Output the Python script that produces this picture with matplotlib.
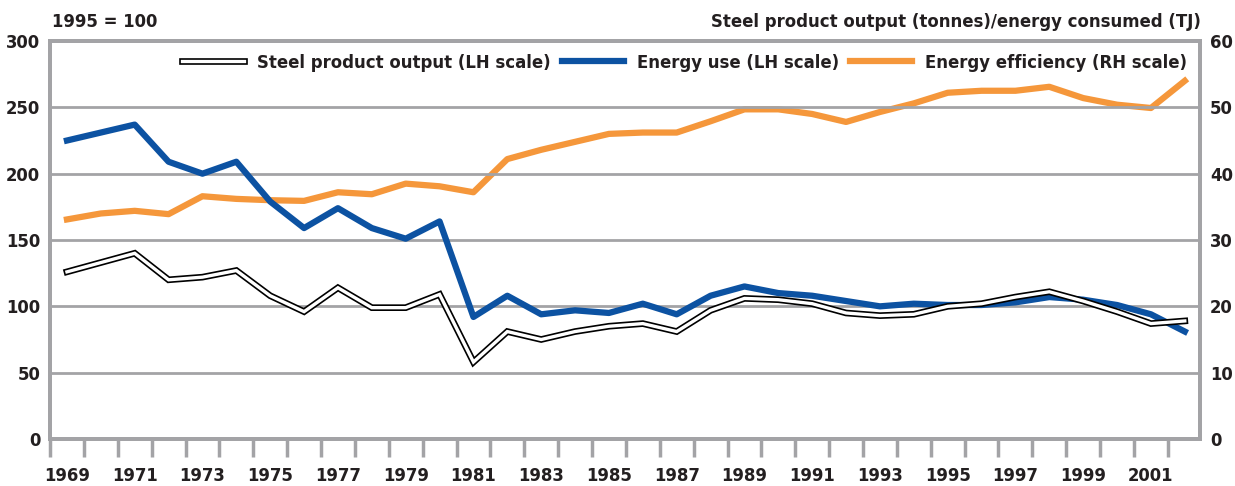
import matplotlib
matplotlib.use("Agg")
import matplotlib.pyplot as plt
import numpy as np

plt.rcParams['font.family'] = ['DejaVu Sans']
plt.rcParams['font.stretch'] = 'condensed'
plt.rcParams['font.weight'] = 'bold'

years = np.arange(1969, 2003)

# 1995 = 100
steel_output = [126, 133, 140, 120, 122, 127, 108, 96, 114, 99, 99, 109,
                58, 81, 75, 81, 85, 87, 81, 97, 106, 105, 102, 95,
                93, 94, 100, 102, 107, 111, 104, 96, 87, 89]
energy_use = [225, 231, 237, 209, 200, 209, 179, 159, 174, 159, 151, 164,
              92, 108, 94, 97, 95, 102, 94, 108, 115, 110, 108, 104,
              100, 102, 101, 101, 103, 107, 105, 101, 94, 81]
# tonnes / TJ
efficiency = [33.1, 34.0, 34.4, 33.9, 36.6, 36.2, 36.0, 35.9, 37.2, 36.9, 38.5, 38.1,
              37.2, 42.2, 43.6, 44.8, 46.0, 46.2, 46.2, 47.9, 49.7, 49.7, 49.0, 47.8,
              49.3, 50.6, 52.2, 52.5, 52.5, 53.1, 51.4, 50.4, 49.9, 54.0]

year_labels = [str(y) for y in range(1969, 2002, 2)]

blue = '#0c52a2'
orange = '#f5973b'
grey = '#a3a3a6'
txt = '#231f20'
fs = 13.2

fig = plt.figure(figsize=(12.35, 4.86), dpi=100)
ax = fig.add_axes([0.0405, 0.0967, 0.9312, 0.8189])
ax2 = ax.twinx()

ax.set_ylim(0, 300)
ax2.set_ylim(0, 60)
ax.set_xlim(1968.5, 2002.45)

ax.set_yticks(range(0, 301, 50))
ax2.set_yticks(range(0, 61, 10))
for a in (ax, ax2):
    a.tick_params(axis='y', length=0, labelsize=fs, labelcolor=txt, pad=7)
    for s in a.spines.values():
        s.set_color(grey)
        s.set_linewidth(2.8)

ax.grid(axis='y', color=grey, linewidth=2)
ax.set_axisbelow(True)

# tick marks between years, labels on odd years
ax.set_xticks(np.arange(1968.5, 2002, 1))
ax.set_xticklabels([])
ax.tick_params(axis='x', which='major', length=13, width=2.5, color=grey, direction='out')
ax.set_xticks(range(1969, 2002, 2), year_labels, minor=True)
ax.tick_params(axis='x', which='minor', length=0, labelsize=fs, labelcolor=txt, pad=20)

# steel output: black double line
s_out, = ax.plot(years, steel_output, color='black', lw=4.8, solid_joinstyle='miter', zorder=3)
s_in, = ax.plot(years, steel_output, color='white', lw=2.4, solid_joinstyle='miter', zorder=4)
e_line, = ax.plot(years, energy_use, color=blue, lw=4.5, zorder=2)
f_line, = ax2.plot(years, efficiency, color=orange, lw=4.5)

ax.set_zorder(ax2.get_zorder() + 1)
ax.patch.set_visible(False)

ax.legend([(s_out, s_in), e_line, f_line],
          ['Steel product output (LH scale)', 'Energy use (LH scale)',
           'Energy efficiency (RH scale)'],
          loc='upper right', ncol=3, frameon=False, fontsize=fs,
          labelcolor=txt, handlelength=3.4, handletextpad=0.7, columnspacing=0.6,
          borderaxespad=0.3, bbox_to_anchor=(1.0, 1.0))

fig.text(0.042, 0.955, '1995 = 100', fontsize=fs, color=txt, va='center', ha='left')
fig.text(0.972, 0.955, 'Steel product output (tonnes)/energy consumed (TJ)',
         fontsize=fs, color=txt, va='center', ha='right')

fig.savefig('out.png', dpi=100)
